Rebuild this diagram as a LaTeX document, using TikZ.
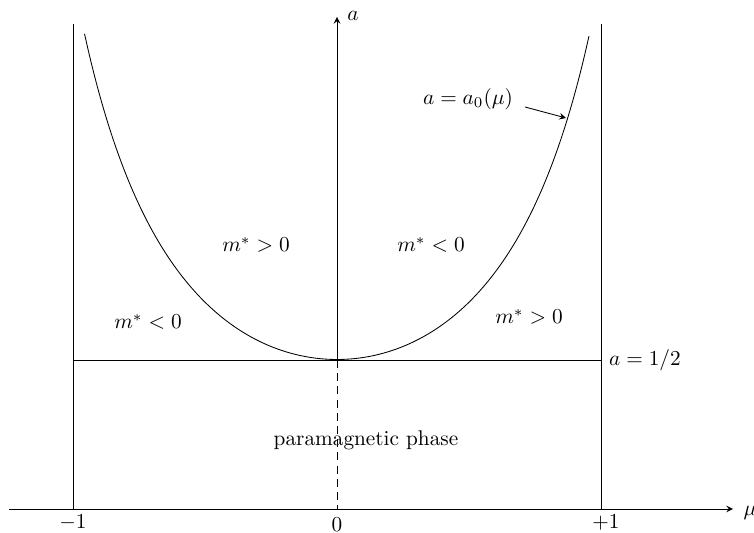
\documentclass[tikz,border=0pt]{standalone}
\usepackage{amsmath,amssymb}
\usepackage{tikz}
\usetikzlibrary{calc, positioning}

\begin{document}
\begin{tikzpicture}[
  >=stealth, x=0.47pt, y=-0.47pt,
  axis/.style={->},
  bound/.style={line width=0.45pt},
  dashln/.style={dash pattern=on 3.8pt off 2.4pt},
  lab/.style={inner sep=1pt}]
  \useasboundingbox (0,0) rectangle (754,533);
  % Punkte
  \coordinate (muL) at (9,509);
  \coordinate (muR) at (733,509);
  \coordinate (o)   at (337,509);
  \coordinate (v)   at (337,360);
  \coordinate (atop) at (337,17);
  \coordinate (lb)  at (73,509);  \coordinate (lt) at (73,24);
  \coordinate (rb)  at (601,509); \coordinate (rt) at (601,24);
  \coordinate (hl)  at (73,360);  \coordinate (hr) at (601,360);
  % Achsen
  \draw[axis] (muL) -- (muR);
  \draw[axis] (v) -- (atop);
  \draw[dashln] (v) -- (o);
  \node[lab] (mu)  at (750,513) {$\mu$};
  \node[lab] (alab) at (353,16) {$a$};
  % Grenzen
  \draw[bound] (lb) -- (lt);
  \draw[bound] (rb) -- (rt);
  \draw[bound] (hl) -- (hr);
  % Kurve a = a_0(mu)
  \draw plot[domain=-2.525:2.52, samples=121, smooth]
    ({337+100*\x}, {359.5 - 29*\x*\x/(1-\x*\x/14.7456)});
  \coordinate (cpt) at (566,118);
  % Beschriftungen
  \node[lab] (tm1) at (73,523)  {$-1$};
  \node[lab] (t0)  at (337,525) {$0$};
  \node[lab] (tp1) at (606,523) {$+1$};
  \node[lab] (a0lab) at (468,99) {$a=a_0(\mu)$};
  \coordinate (a0s) at (525,107);
  \draw[->] (a0s) -- (cpt);
  \node[lab] (half) at (645,360) {$a=1/2$};
  \node[lab] (mlo) at (148,322) {$m^*<0$};
  \node[lab] (mhi) at (256,245) {$m^*>0$};
  \node[lab] (rlo) at (431,245) {$m^*<0$};
  \node[lab] (rhi) at (529,317) {$m^*>0$};
  \node[lab] (para) at (366,440) {paramagnetic phase};
\end{tikzpicture}
\end{document}
